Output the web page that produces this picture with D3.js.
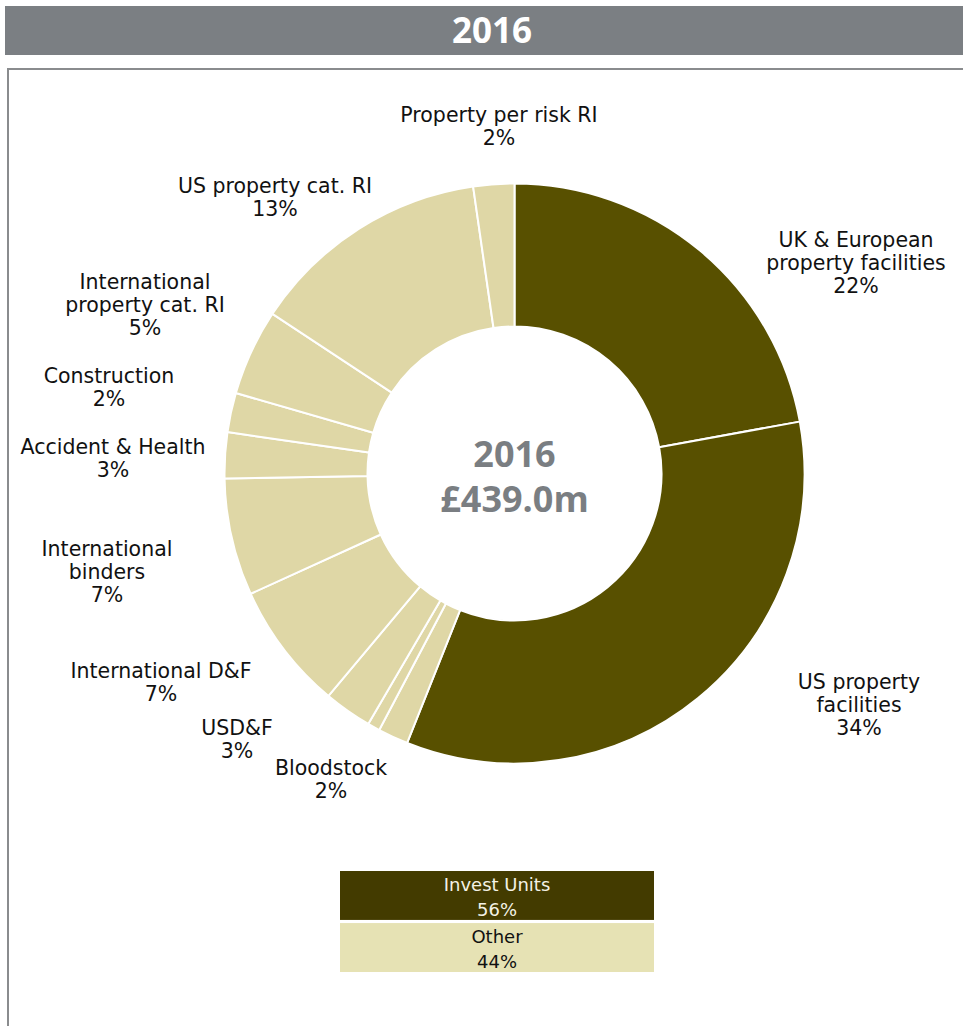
<!DOCTYPE html>
<html>
<head>
<meta charset="utf-8">
<script src="https://cdn.jsdelivr.net/npm/d3@7"></script>
<style>
  body { margin: 0; background: #fff; }
  svg { display: block; }
</style>
</head>
<body>
<svg id="chart" width="963" height="1026"></svg>
<script>
// ---- data -------------------------------------------------------------
const year = "2016";
const totalLabel = "£439.0m";

// Segments in clockwise order from 12 o'clock ("\n" marks a label line break)
const categories = [
  "UK & European\nproperty facilities",
  "US property\nfacilities",
  "Bloodstock",
  "Other classes",
  "USD&F",
  "International D&F",
  "International\nbinders",
  "Accident & Health",
  "Construction",
  "International\nproperty cat. RI",
  "US property cat. RI",
  "Property per risk RI"
];

// Share of gross premiums written, %
const shares = [22.14, 33.90, 1.69, 0.69, 2.67, 7.11, 6.53, 2.56, 2.19, 4.81, 13.44, 2.28];

// Business group each segment belongs to
const groups = ["Invest Units", "Other"];
const segmentGroup = [
  "Invest Units", "Invest Units",
  "Other", "Other", "Other", "Other", "Other",
  "Other", "Other", "Other", "Other", "Other"
];

// ---- layout -----------------------------------------------------------
const W = 963, H = 1026;
const cx = 514.5, cy = 473.5;
const outerR = 290, innerR = 147;
const lineGap = 23;

// Label anchors (centre x, first baseline) relative to the ring centre
const labelAnchors = [
  [341.5, -227], [344.5, 215.5], [-183.5, 301.5], null, [-277.5, 261.5],
  [-353.5, 204.2], [-407.5, 82.5], [-401.5, -19.5], [-405.5, -90.2],
  [-369.5, -184.5], [-239.5, -280.2], [-15.5, -351.8]
];

const groupFill = { "Invest Units": "#585000", "Other": "#dfd7a6" };
const legendFill = { "Invest Units": "#433b00", "Other": "#e6e2b4" };
const legendText = { "Invest Units": "#f4f2e6", "Other": "#111" };

const svg = d3.select("#chart");
const pct = v => Math.round(v) + "%";

// ---- header band and frame -------------------------------------------
svg.append("rect")
  .attr("x", 5).attr("y", 6).attr("width", W - 5).attr("height", 49)
  .attr("fill", "#7b7f83");
svg.append("text")
  .attr("x", 492).attr("y", 43)
  .attr("text-anchor", "middle")
  .attr("font-family", "'Open Sans', sans-serif")
  .attr("font-weight", 700).attr("font-size", 35)
  .attr("fill", "#fff")
  .text(year);

svg.append("path")
  .attr("d", `M8,${H} V69 H${W}`)
  .attr("fill", "none").attr("stroke", "#8a8c8e").attr("stroke-width", 2);

// ---- donut ------------------------------------------------------------
const rows = categories.map((c, i) => ({ name: c, value: shares[i], group: segmentGroup[i], anchor: labelAnchors[i] }));

const pie = d3.pie().sort(null).value(d => d.value)
  .startAngle(0).endAngle(2 * Math.PI);
const arc = d3.arc().innerRadius(innerR).outerRadius(outerR);
const arcs = pie(rows);

const ring = svg.append("g").attr("transform", `translate(${cx},${cy})`);
ring.selectAll("path.slice")
  .data(arcs)
  .join("path")
  .attr("class", "slice")
  .attr("d", arc)
  .attr("fill", d => groupFill[d.data.group])
  .attr("stroke", "#fff")
  .attr("stroke-width", 2)
  .attr("stroke-linejoin", "round");

// Segment labels: name lines plus the rounded share; shares under 1% are not labelled
const labels = ring.selectAll("text.seg")
  .data(arcs.filter(d => d.data.anchor && d.data.value >= 1))
  .join("text")
  .attr("class", "seg")
  .attr("text-anchor", "middle")
  .attr("font-family", "'DejaVu Sans', sans-serif")
  .attr("font-size", 20.5)
  .attr("fill", "#111");

labels.each(function(d) {
  const t = d3.select(this);
  const lines = d.data.name.split("\n").concat([pct(d.data.value)]);
  const [ax, ay] = d.data.anchor;
  lines.forEach((ln, k) => {
    t.append("tspan").attr("x", ax).attr("y", ay + k * lineGap).text(ln);
  });
});

// Centre caption
const centre = ring.append("text")
  .attr("text-anchor", "middle")
  .attr("font-family", "'Open Sans', sans-serif")
  .attr("font-weight", 700)
  .attr("font-size", 36)
  .attr("fill", "#7a7e82");
centre.append("tspan").attr("x", 0).attr("y", -6.5).text(year);
centre.append("tspan").attr("x", 0).attr("y", 38.5).text(totalLabel);

// ---- group legend -----------------------------------------------------
const groupTotals = groups.map(g => ({
  group: g,
  value: d3.sum(rows.filter(r => r.group === g), r => r.value)
}));

const legendY = d3.scaleBand().domain(groups).range([871, 972]).paddingInner(0.06);
const legend = svg.append("g");
const item = legend.selectAll("g")
  .data(groupTotals)
  .join("g")
  .attr("transform", d => `translate(340,${legendY(d.group)})`);

item.append("rect")
  .attr("width", 314)
  .attr("height", legendY.bandwidth())
  .attr("fill", d => legendFill[d.group]);

const lt = item.append("text")
  .attr("text-anchor", "middle")
  .attr("font-family", "'DejaVu Sans', sans-serif")
  .attr("font-size", 18)
  .attr("fill", d => legendText[d.group]);
lt.append("tspan").attr("x", 157).attr("y", 19.5).text(d => d.group);
lt.append("tspan").attr("x", 157).attr("y", 44.5).text(d => pct(d.value));
</script>
</body>
</html>
